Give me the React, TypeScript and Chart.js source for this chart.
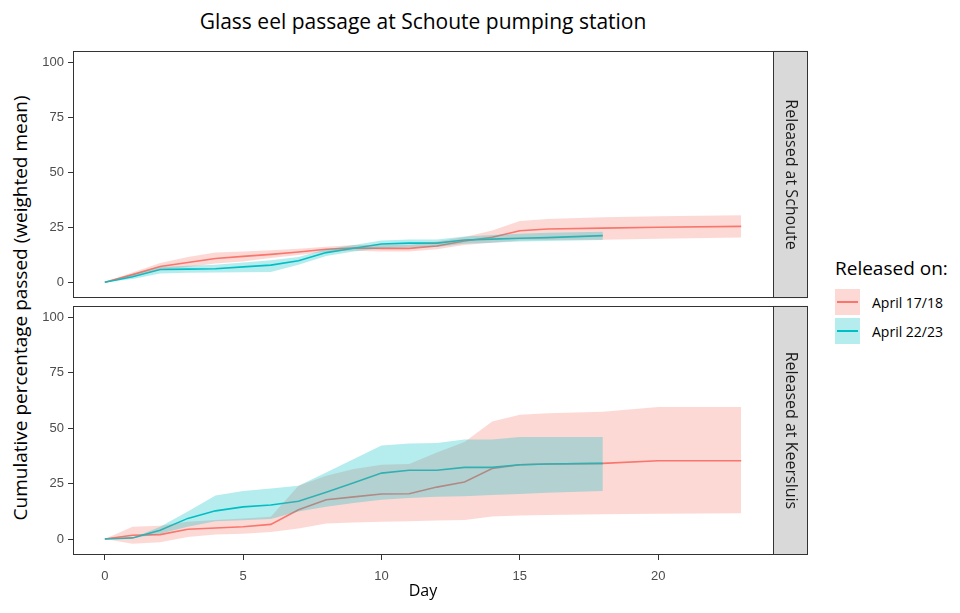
import React, { useEffect, useRef } from "react";
import { Chart, registerables } from "chart.js";

Chart.register(...registerables);

// ---------- data ----------
const daysApril1718 = [0, 1, 2, 3, 4, 5, 6, 7, 8, 9, 10, 11, 12, 13, 14, 15, 16, 18, 20, 23];
const daysApril2223 = [0, 1, 2, 3, 4, 5, 6, 7, 8, 9, 10, 11, 12, 13, 14, 15, 16, 18];

const schouteMean1718 = [0, 3.5, 7.2, 9.0, 10.8, 11.8, 12.7, 13.8, 15.0, 15.6, 15.4, 15.4, 16.5, 18.8, 20.5, 23.4, 24.2, 24.6, 25.0, 25.4];
const schouteUpper1718 = [0, 4.5, 8.8, 11.5, 13.5, 14.0, 14.6, 15.3, 16.2, 17.0, 17.0, 17.0, 18.5, 20.6, 23.5, 27.8, 28.7, 29.5, 30.0, 30.5];
const schouteLower1718 = [0, 2.5, 5.6, 7.0, 8.5, 9.5, 11.0, 12.4, 13.9, 14.3, 14.0, 14.0, 15.0, 17.0, 18.0, 19.0, 19.2, 19.3, 19.8, 20.3];

const schouteMean2223 = [0, 2.5, 5.8, 6.0, 6.2, 7.0, 7.8, 9.8, 13.5, 15.5, 17.4, 17.8, 17.8, 19.2, 19.6, 20.0, 20.3, 21.2];
const schouteUpper2223 = [0, 3.5, 7.0, 7.5, 8.0, 9.0, 10.0, 11.5, 15.0, 17.0, 19.0, 19.5, 19.5, 20.8, 21.5, 22.0, 22.5, 23.0];
const schouteLower2223 = [0, 1.5, 4.0, 4.3, 4.5, 4.6, 4.7, 8.0, 12.0, 14.0, 15.5, 16.0, 16.0, 17.5, 18.0, 18.5, 18.8, 19.2];

const keersluisMean1718 = [0, 1.7, 2.0, 4.4, 5.0, 5.5, 6.6, 13.2, 17.7, 19.0, 20.3, 20.4, 23.4, 25.7, 31.8, 33.5, 33.8, 34.1, 35.3, 35.3];
const keersluisUpper1718 = [0, 5.5, 6.0, 7.8, 8.6, 9.3, 10.0, 24.0, 28.5, 31.5, 33.5, 33.8, 39.0, 43.7, 53.0, 56.0, 56.7, 57.3, 59.5, 59.5];
const keersluisLower1718 = [0, -2.1, -1.4, 0.9, 2.0, 2.4, 3.2, 4.7, 7.0, 7.5, 7.8, 8.0, 8.3, 8.6, 10.1, 10.6, 10.8, 11.2, 11.4, 11.6];

const keersluisMean2223 = [0, 0.5, 4.0, 9.3, 12.7, 14.5, 15.3, 17.0, 21.1, 25.4, 29.7, 31.0, 31.0, 32.3, 32.3, 33.5, 33.8, 34.1];
const keersluisUpper2223 = [0, 0.5, 5.5, 12.4, 19.6, 21.6, 22.8, 24.0, 30.0, 36.1, 42.2, 43.0, 43.3, 44.8, 44.8, 46.0, 46.0, 46.0];
const keersluisLower2223 = [0, 0.3, 2.4, 5.5, 8.0, 8.5, 9.0, 12.4, 14.5, 16.2, 17.7, 18.5, 19.0, 19.3, 19.8, 20.3, 20.8, 21.6];

const yTicks = [0, 25, 50, 75, 100];
const xTicks = [0, 5, 10, 15, 20];
const groupLabels = ["April 17/18", "April 22/23"];
const panelLabels = ["Released at Schoute", "Released at Keersluis"];

const RED = "#F8766D";
const TEAL = "#00BFC4";
const RED_FILL = "rgba(248,118,109,0.28)";
const TEAL_FILL = "rgba(0,191,196,0.29)";
const SANS = '"Open Sans", "Noto Sans", sans-serif';
const TICKFONT = '"Liberation Sans", Arial, sans-serif';

const pts = (d: number[], v: number[]) => d.map((x, i) => ({ x, y: v[i] }));

function buildDatasets(
  mA: number[], uA: number[], lA: number[],
  mB: number[], uB: number[], lB: number[]
) {
  const hidden = { borderWidth: 0, borderColor: "rgba(0,0,0,0)", pointRadius: 0, tension: 0 };
  return [
    { label: groupLabels[0], data: pts(daysApril1718, mA), borderColor: RED, borderWidth: 1.6, pointRadius: 0, tension: 0, fill: false, order: 6 },
    { label: groupLabels[1], data: pts(daysApril2223, mB), borderColor: TEAL, borderWidth: 1.6, pointRadius: 0, tension: 0, fill: false, order: 5 },
    { label: "lo1", data: pts(daysApril1718, lA), ...hidden, fill: false, order: 4 },
    { label: "up1", data: pts(daysApril1718, uA), ...hidden, fill: 2, backgroundColor: RED_FILL, order: 3 },
    { label: "lo2", data: pts(daysApril2223, lB), ...hidden, fill: false, order: 2 },
    { label: "up2", data: pts(daysApril2223, uB), ...hidden, fill: 4, backgroundColor: TEAL_FILL, order: 1 },
  ];
}

const panelPlugin = {
  id: "facetPanel",
  afterDraw(chart: any, _args: any, opts: any) {
    const { ctx, chartArea: a } = chart;
    const stripW = 35;
    ctx.save();
    ctx.fillStyle = "#D9D9D9";
    ctx.fillRect(a.right, a.top, stripW, a.bottom - a.top);
    ctx.strokeStyle = "#333333";
    ctx.lineWidth = 1;
    ctx.strokeRect(Math.round(a.right) + 0.5, Math.round(a.top) + 0.5, stripW - 1, Math.round(a.bottom - a.top) - 1);
    ctx.strokeRect(Math.round(a.left) + 0.5, Math.round(a.top) + 0.5, Math.round(a.right - a.left), Math.round(a.bottom - a.top) - 1);
    ctx.translate(a.right + stripW / 2, (a.top + a.bottom) / 2);
    ctx.rotate(Math.PI / 2);
    ctx.fillStyle = "#1A1A1A";
    ctx.font = `16px ${SANS}`;
    ctx.textAlign = "center";
    ctx.textBaseline = "middle";
    ctx.fillText(opts.label, 0, 0);
    ctx.restore();
  },
};

function makeChart(canvas: HTMLCanvasElement, which: number) {
  const datasets =
    which === 0
      ? buildDatasets(schouteMean1718, schouteUpper1718, schouteLower1718, schouteMean2223, schouteUpper2223, schouteLower2223)
      : buildDatasets(keersluisMean1718, keersluisUpper1718, keersluisLower1718, keersluisMean2223, keersluisUpper2223, keersluisLower2223);
  const bottom = which === 1;
  return new Chart(canvas, {
    type: "line",
    data: { datasets: datasets as any },
    plugins: [panelPlugin as any],
    options: {
      animation: false,
      responsive: true,
      maintainAspectRatio: false,
      layout: { padding: { top: 1, right: 57, bottom: bottom ? 12 : 3, left: 0 } },
      plugins: {
        legend: { display: false },
        tooltip: { enabled: false },
        facetPanel: { label: panelLabels[which] },
      } as any,
      scales: {
        x: {
          type: "linear",
          min: -1.15,
          max: 24.15,
          display: bottom,
          afterBuildTicks: (s: any) => { s.ticks = xTicks.map((v) => ({ value: v })); },
          afterFit: (s: any) => { if (bottom) s.height = 46; },
          ticks: { color: "#4D4D4D", font: { family: TICKFONT, size: 13 }, padding: 9, maxRotation: 0 },
          grid: { display: true, drawOnChartArea: false, drawTicks: true, tickLength: 5, color: "#333333" },
          border: { display: false },
          title: { display: bottom, text: "Day", color: "#000", font: { family: SANS, size: 16 }, padding: { top: 0, bottom: 0 } },
        },
        y: {
          type: "linear",
          min: -7.2,
          max: 105.1,
          afterBuildTicks: (s: any) => { s.ticks = yTicks.map((v) => ({ value: v })); },
          afterFit: (s: any) => { s.width = 73; },
          ticks: { color: "#4D4D4D", font: { family: TICKFONT, size: 13 }, padding: 4 },
          grid: { display: true, drawOnChartArea: false, drawTicks: true, tickLength: 5, color: "#333333" },
          border: { display: false },
        },
      },
    } as any,
  });
}

function Panel({ which, top, height }: { which: number; top: number; height: number }) {
  const ref = useRef<HTMLCanvasElement>(null);
  useEffect(() => {
    const c = makeChart(ref.current!, which);
    return () => c.destroy();
  }, [which]);
  return (
    <div style={{ position: "absolute", left: 0, top, width: 830, height }}>
      <canvas ref={ref} />
    </div>
  );
}

export default function App() {
  return (
    <div style={{ position: "fixed", left: 0, top: 0, width: 960, height: 613, background: "#fff", fontFamily: SANS, overflow: "hidden" }}>
      <div style={{ position: "absolute", left: 73, top: 7, width: 700, textAlign: "center", fontSize: 21, color: "#000", lineHeight: "28px" }}>
        Glass eel passage at Schoute pumping station
      </div>
      <div
        style={{
          position: "absolute", left: 20, top: 308, transform: "translate(-50%, -50%) rotate(-90deg)",
          whiteSpace: "nowrap", fontSize: 19, color: "#000", lineHeight: "24px",
        }}
      >
        Cumulative percentage passed (weighted mean)
      </div>
      <Panel which={0} top={39} height={271} />
      <Panel which={1} top={294} height={319} />
      <div style={{ position: "absolute", left: 835, top: 256, fontSize: 19, color: "#000", lineHeight: "24px", whiteSpace: "nowrap" }}>
        Released on:
      </div>
      {[0, 1].map((i) => (
        <div key={i} style={{ position: "absolute", left: 835, top: 289 + i * 29, height: 26, display: "flex", alignItems: "center" }}>
          <div style={{ position: "relative", width: 25, height: 26, background: i === 0 ? RED_FILL : TEAL_FILL }}>
            <div style={{ position: "absolute", left: 2, right: 2, top: 12, height: 2, background: i === 0 ? RED : TEAL }} />
          </div>
          <div style={{ marginLeft: 12, fontSize: 14, color: "#000", whiteSpace: "nowrap" }}>{groupLabels[i]}</div>
        </div>
      ))}
    </div>
  );
}
